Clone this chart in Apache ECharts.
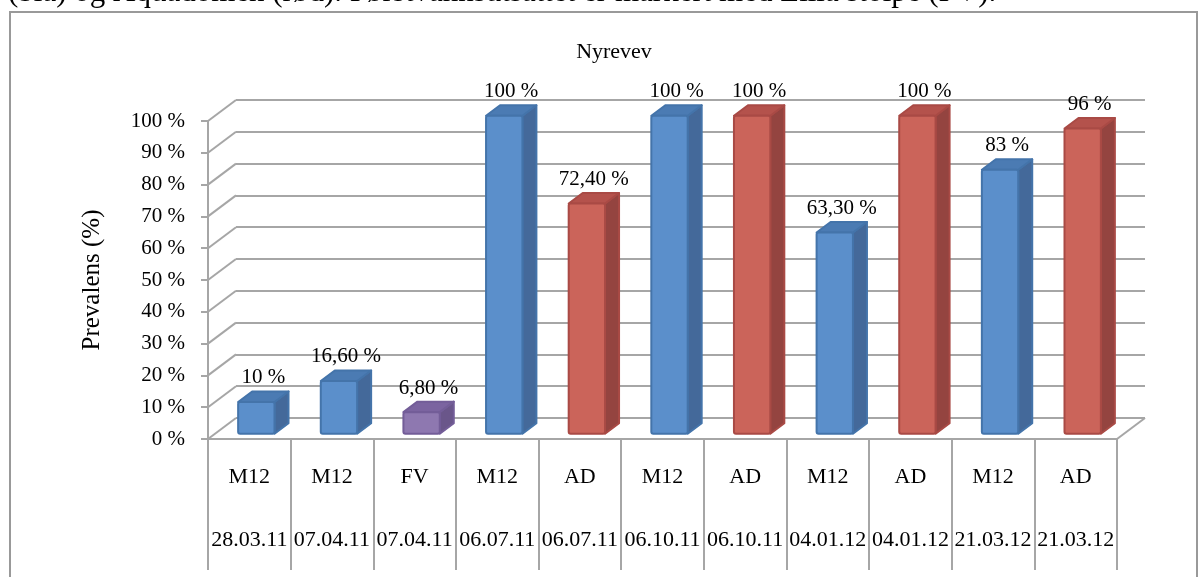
<!DOCTYPE html>
<html>
<head>
<meta charset="utf-8">
<script src="https://cdn.jsdelivr.net/npm/echarts@6/dist/echarts.min.js"></script>
<style>
  html, body { margin: 0; padding: 0; background: #ffffff; }
  #chart { width: 1200px; height: 577px; }
</style>
</head>
<body>
<div id="chart"></div>
<script>
// Sampling groups, dates and prevalence (%) for each column
const groups = ['M12', 'M12', 'FV', 'M12', 'AD', 'M12', 'AD', 'M12', 'AD', 'M12', 'AD'];
const dates = ['28.03.11', '07.04.11', '07.04.11', '06.07.11', '06.07.11', '06.10.11', '06.10.11', '04.01.12', '04.01.12', '21.03.12', '21.03.12'];
const prevalence = [10, 16.6, 6.8, 100, 72.4, 100, 100, 63.3, 100, 83, 96];
const yTicks = [0, 10, 20, 30, 40, 50, 60, 70, 80, 90, 100];

// Face colours per group: front, side, top, edge
const faceColors = {
  M12: { front: '#5b8fcb', side: '#44699a', top: '#4b7bb3', edge: '#4474aa' },
  AD:  { front: '#cb645a', side: '#944440', top: '#b4524c', edge: '#a94a45' },
  FV:  { front: '#8e78b0', side: '#6a568a', top: '#7b64a0', edge: '#735d98' }
};

// Perspective offset from the front plane to the back wall
const DX = 28, DY = -21;
// Bar depth span (fraction of the full depth) and width (fraction of a band)
const Z0 = 0.25, Z1 = 0.75, BAR_W = 0.44;

const GRID_LINE = '#a6a6a6';
const SERIF = '"Liberation Serif", "Times New Roman", serif';

function pct(v) {
  return Number.isInteger(v) ? v + ' %' : v.toFixed(2).replace('.', ',') + ' %';
}

const chart = echarts.init(document.getElementById('chart'), null, { renderer: 'canvas' });

const option = {
  backgroundColor: '#ffffff',
  animation: false,
  title: {
    text: 'Nyrevev',
    left: 609,
    top: 36,
    textAlign: 'center',
    textStyle: { fontFamily: SERIF, fontSize: 22, fontWeight: 'normal', color: '#000' }
  },
  graphic: [
    {
      type: 'text',
      left: 8,
      top: -23,
      silent: true,
      style: {
        text: '(blå) og Aquadomen (rød). Førstvannsutsattet er markert med Lilla stolpe (FV).',
        font: '31px "Liberation Serif", serif',
        fill: '#000'
      }
    },
    {
      type: 'rect',
      silent: true,
      shape: { x: 10, y: 12, width: 1187, height: 620 },
      style: { fill: 'none', stroke: '#999999', lineWidth: 2 }
    }
  ],
  grid: [
    // front plane (axes, labels, bars)
    { left: 208, right: 83, top: 121, bottom: 138, outerBoundsMode: 'none' },
    // back wall (grid lines)
    { left: 236, right: 55, top: 100, bottom: 159, outerBoundsMode: 'none' }
  ],
  xAxis: [
    {
      type: 'category',
      gridIndex: 0,
      data: groups.map((g, i) => i),
      boundaryGap: true,
      axisLine: { show: true, lineStyle: { color: GRID_LINE, width: 2 } },
      axisTick: { show: true, interval: 0, length: 131, lineStyle: { color: GRID_LINE, width: 2 } },
      axisLabel: {
        interval: 0,
        margin: 7,
        lineHeight: 63,
        fontFamily: SERIF,
        fontSize: 22,
        color: '#000',
        formatter: (val, i) => groups[i] + '\n' + dates[i]
      },
      splitLine: { show: false }
    },
    {
      type: 'category',
      gridIndex: 1,
      data: groups.map((g, i) => i),
      show: false
    }
  ],
  yAxis: [
    {
      type: 'value',
      gridIndex: 0,
      min: 0,
      max: 100,
      interval: 10,
      name: 'Prevalens (%)',
      nameLocation: 'middle',
      nameRotate: 90,
      nameGap: 103,
      nameTextStyle: { fontFamily: SERIF, fontSize: 25, color: '#000' },
      axisLine: { show: true, lineStyle: { color: GRID_LINE, width: 2 } },
      axisTick: { show: true, length: 7, lineStyle: { color: GRID_LINE, width: 2 } },
      axisLabel: {
        margin: 23,
        fontFamily: SERIF,
        fontSize: 21,
        color: '#000',
        formatter: v => v + ' %'
      },
      splitLine: { show: false }
    },
    {
      type: 'value',
      gridIndex: 1,
      min: 0,
      max: 100,
      interval: 10,
      axisLine: { show: false },
      axisTick: { show: false },
      axisLabel: { show: false },
      splitLine: { show: true, lineStyle: { color: GRID_LINE, width: 2 } }
    }
  ],
  series: [
    // Side wall and floor edges running from the front plane to the back wall
    {
      type: 'custom',
      xAxisIndex: 0,
      yAxisIndex: 0,
      silent: true,
      z: 1,
      data: yTicks.map(v => [0, v]),
      renderItem: function (params, api) {
        const cs = params.coordSys;
        const v = api.value(1);
        const y = api.coord([0, v])[1];
        const children = [{
          type: 'line',
          shape: { x1: cs.x, y1: y, x2: cs.x + DX, y2: y + DY },
          style: { stroke: GRID_LINE, lineWidth: 2 }
        }];
        if (v === 0) {
          children.push({
            type: 'line',
            shape: { x1: cs.x + cs.width, y1: y, x2: cs.x + cs.width + DX, y2: y + DY },
            style: { stroke: GRID_LINE, lineWidth: 2 }
          });
        }
        return { type: 'group', children: children };
      }
    },
    // 3D columns
    {
      type: 'custom',
      xAxisIndex: 0,
      yAxisIndex: 0,
      z: 5,
      data: prevalence.map((v, i) => [i, v]),
      encode: { x: 0, y: 1 },
      renderItem: function (params, api) {
        const i = api.value(0);
        const v = api.value(1);
        const c = faceColors[groups[i]];
        const top = api.coord([i, v]);
        const base = api.coord([i, 0]);
        const band = api.size([1, 0])[0];
        const w = band * BAR_W;
        const x0 = top[0] - w / 2 + Z0 * DX;
        const x1 = x0 + w;
        const yT = top[1] + Z0 * DY;
        const yB = base[1] + Z0 * DY;
        const ddx = (Z1 - Z0) * DX;
        const ddy = (Z1 - Z0) * DY;
        const edge = { stroke: c.edge, lineWidth: 2, lineJoin: 'round' };
        return {
          type: 'group',
          children: [
            {
              type: 'polygon',
              shape: { points: [[x1, yT], [x1 + ddx, yT + ddy], [x1 + ddx, yB + ddy], [x1, yB]] },
              style: Object.assign({ fill: c.side }, edge)
            },
            {
              type: 'polygon',
              shape: { points: [[x0, yT], [x0 + ddx, yT + ddy], [x1 + ddx, yT + ddy], [x1, yT]] },
              style: Object.assign({ fill: c.top }, edge)
            },
            {
              type: 'rect',
              shape: { x: x0, y: yT, width: w, height: yB - yT, r: 2 },
              style: Object.assign({ fill: c.front }, edge)
            },
            {
              type: 'text',
              style: {
                text: pct(v),
                x: x0 + w / 2 + ddx / 2,
                y: yT + ddy - 3,
                align: 'center',
                verticalAlign: 'bottom',
                font: '21px ' + SERIF,
                fill: '#000'
              }
            }
          ]
        };
      }
    }
  ]
};

chart.setOption(option);
</script>
</body>
</html>
